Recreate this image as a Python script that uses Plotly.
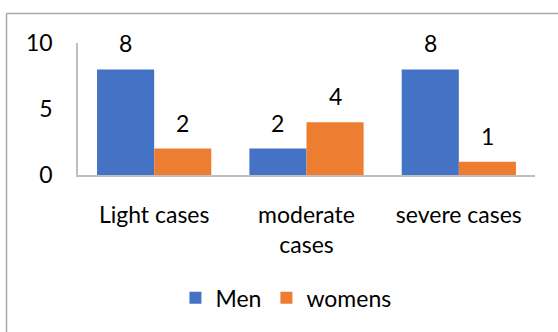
import plotly.graph_objects as go

categories = ["Light cases", "moderate<br>cases", "severe cases"]
men = [8, 2, 8]
womens = [2, 4, 1]
y_ticks = [0, 5, 10]

W, H = 558, 332
L, R, T, B = 78, 23, 43, 157
pw, ph = W - L - R, H - T - B

font = dict(family="Lato, Carlito, Calibri, sans-serif", size=23, color="#000000")

fig = go.Figure()
fig.add_trace(go.Bar(
    name="Men", x=categories, y=men, offsetgroup="m",
    marker=dict(color="#4472C4", line=dict(width=0)),
))
fig.add_trace(go.Bar(
    name="womens", x=categories, y=womens, offsetgroup="w",
    marker=dict(color="#ED7D31", line=dict(width=0)),
))

# value labels floating above each bar
n = len(categories)
for series, side in ((men, -1), (womens, 1)):
    for i, v in enumerate(series):
        fig.add_annotation(
            x=i + side * 0.1875, y=v, xref="x", yref="y",
            text=str(v), showarrow=False, font=font,
            yanchor="middle", yshift=26,
        )

# left and top frame lines of the chart area
fx = (6.5 - L) / pw
fy = 1 + (T - 13.5) / ph
fy_bottom = -(H - T - ph) / ph
fig.add_shape(type="line", xref="paper", yref="paper", x0=fx, x1=fx, y0=fy, y1=fy_bottom,
              line=dict(color="#a6a6a6", width=1.5))
fig.add_shape(type="line", xref="paper", yref="paper", x0=fx, x1=1 + R / pw, y0=fy, y1=fy,
              line=dict(color="#a6a6a6", width=1.5))

fig.update_layout(
    width=W, height=H,
    margin=dict(l=L, r=R, t=T, b=B),
    paper_bgcolor="white", plot_bgcolor="white",
    barmode="group", bargap=0.25, bargroupgap=0,
    font=font,
    showlegend=True,
    legend=dict(orientation="h", x=0.455, xanchor="center", y=-0.93, yanchor="middle",
                font=font, itemwidth=30, traceorder="normal"),
    xaxis=dict(showline=True, linecolor="#bfbfbf", linewidth=1.5, ticks="",
               showgrid=False, tickfont=font, ticklabelstandoff=19,
               range=[-0.5, n - 0.5]),
    yaxis=dict(range=[0, 10], tickvals=y_ticks, showline=True, linecolor="#bfbfbf",
               linewidth=1.5, showgrid=False, zeroline=False, ticks="",
               tickfont=font, ticklabelstandoff=19),
)

fig.write_html("out.html")
